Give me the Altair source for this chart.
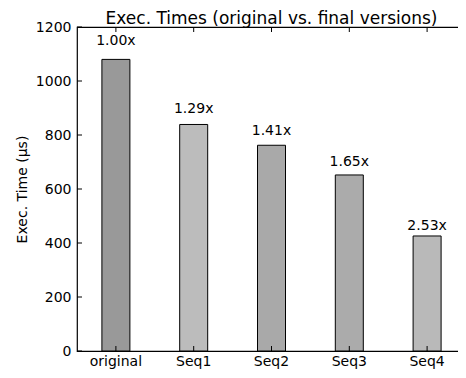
import altair as alt
import pandas as pd

categories = ["original", "Seq1", "Seq2", "Seq3", "Seq4"]
times = [1080, 839, 762, 652, 426]
speedups = ["1.00x", "1.29x", "1.41x", "1.65x", "2.53x"]
fills = ["#999999", "#bcbcbc", "#a9a9a9", "#ababab", "#b9b9b9"]
yticks = [0, 200, 400, 600, 800, 1000, 1200]

W, H = 389, 324
FONT = "DejaVu Sans"

df = pd.DataFrame({"cat": categories, "time": times, "label": speedups})
ticks_df = pd.DataFrame({"v": yticks})

xscale = alt.Scale(domain=categories, paddingInner=0, paddingOuter=0)
yscale = alt.Scale(domain=[0, 1200], nice=False)

base = alt.Chart(df)

bars = base.mark_bar(size=28, stroke="black", strokeWidth=1).encode(
    x=alt.X("cat:N", scale=xscale, sort=categories,
            axis=alt.Axis(title=None, labelAngle=0, labelPadding=3)),
    y=alt.Y("time:Q", scale=yscale,
            axis=alt.Axis(title="Exec. Time (μs)", values=yticks, format="d",
                          labelPadding=6, titlePadding=6)),
    color=alt.Color("cat:N", scale=alt.Scale(domain=categories, range=fills),
                    legend=None),
)

text = base.transform_calculate(ly="datum.time * 1.05").mark_text(
    baseline="alphabetic", fontSize=14, font=FONT, color="black"
).encode(
    x=alt.X("cat:N", scale=xscale, sort=categories),
    y=alt.Y("ly:Q", scale=yscale),
    text="label:N",
)

ytl = alt.Chart(ticks_df).mark_rule(color="black", strokeWidth=1).encode(
    y=alt.Y("v:Q", scale=yscale), x=alt.value(0), x2=alt.value(5))
ytr = alt.Chart(ticks_df).mark_rule(color="black", strokeWidth=1).encode(
    y=alt.Y("v:Q", scale=yscale), x=alt.value(W - 5), x2=alt.value(W))
xtb = base.mark_rule(color="black", strokeWidth=1).encode(
    x=alt.X("cat:N", scale=xscale, sort=categories),
    y=alt.value(H - 5), y2=alt.value(H))
xtt = base.mark_rule(color="black", strokeWidth=1).encode(
    x=alt.X("cat:N", scale=xscale, sort=categories),
    y=alt.value(0), y2=alt.value(5))

chart = alt.layer(bars, text, ytl, ytr, xtb, xtt).properties(
    width=W, height=H,
    background="white",
    title=alt.TitleParams("Exec. Times (original vs. final versions)",
                          font=FONT, fontSize=17, fontWeight="normal",
                          color="black", anchor="middle", offset=5, dy=13),
    padding={"left": 69, "top": 19, "right": -8, "bottom": 19},
    autosize=alt.AutoSizeParams(type="none"),
).configure_axis(
    grid=False, domain=False, ticks=False, tickSize=0,
    labelFont=FONT, labelFontSize=14, labelColor="black",
    titleFont=FONT, titleFontSize=14, titleFontWeight="normal",
    titleColor="black",
).configure_axisY(format="d").configure_view(
    stroke="black", strokeWidth=1.2
)

chart.save("out.html", embed_options={"renderer": "svg", "actions": False})
